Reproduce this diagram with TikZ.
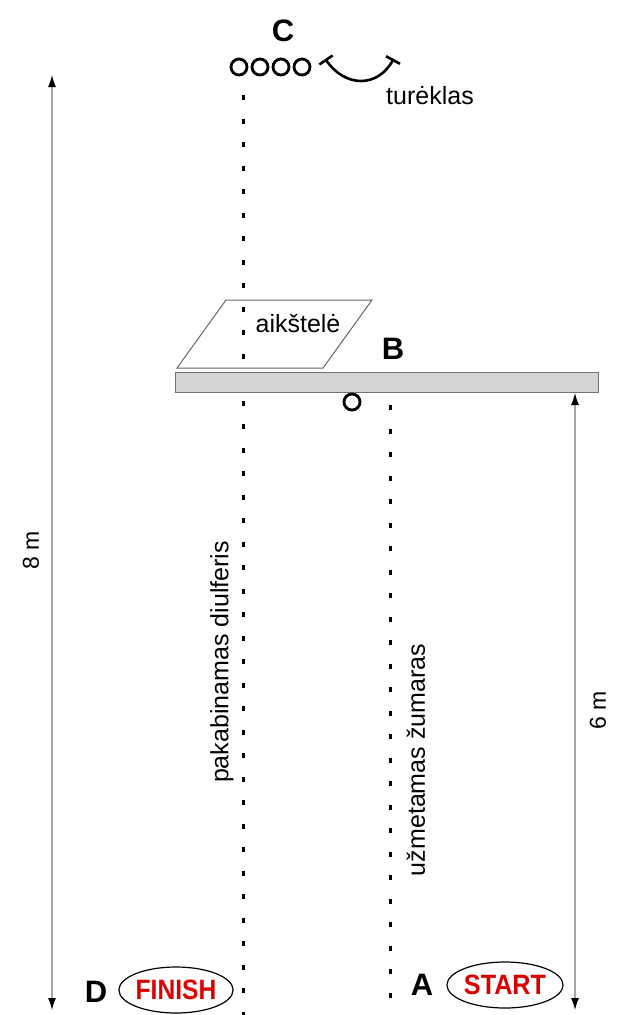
\documentclass[tikz,border=0pt]{standalone}
\usepackage{fontspec}
\setmainfont{Liberation Sans}
\usetikzlibrary{arrows.meta,shapes.geometric}
\begin{document}
\begin{tikzpicture}[x=1pt,y=-1pt,
  lbl/.style={inner sep=0pt,font=\fontsize{25}{28}\selectfont},
  dimlbl/.style={inner sep=0pt,font=\fontsize{23}{26}\selectfont},
  letter/.style={inner sep=0pt,font=\fontsize{31}{33}\selectfont\bfseries},
  dim/.style={draw=black!35,line width=1.1pt,{Latex[length=12pt,width=8pt,color=black]}-{Latex[length=12pt,width=8pt,color=black]}},
  rope/.style={line width=3pt,dash pattern=on 5pt off 18.5pt},
  ring/.style={circle,draw,line width=2.8pt,minimum size=16pt,inner sep=0pt},
  oval/.style={ellipse,draw,line width=1.2pt,minimum width=106pt,minimum height=46pt,inner sep=0pt,
    text=red!85!black,font=\fontsize{28}{30}\selectfont\bfseries},
]
\useasboundingbox (0,0) rectangle (640,1015);
% dimension coordinates
\coordinate (l8t) at (52,75);
\coordinate (l8b) at (52,1010);
\coordinate (l6t) at (575,393);
\coordinate (l6b) at (575,1010);
\draw[dim] (l8t) -- (l8b);
\draw[dim] (l6b) -- (l6t);
\node[dimlbl,rotate=90] (t8) at (31,550) {8 m};
\node[dimlbl,rotate=90] (t6) at (598,710) {6 m};
% platform (aikstele)
\coordinate (p1) at (226,300);
\coordinate (p2) at (372,300);
\coordinate (p3) at (323,368);
\coordinate (p4) at (177,368);
\draw[black!60,line width=1pt] (p1) -- (p2) -- (p3) -- (p4) -- cycle;
\node[lbl] (ai) at (298,324) {aikštelė};
% ropes
\coordinate (r1t) at (243,95);
\coordinate (r1b) at (243,1015);
\coordinate (r2t) at (390,405);
\coordinate (r2b) at (390,1010);
\draw[rope] (r1t) -- (r1b);
\draw[rope] (r2t) -- (r2b);
% bar
\node[draw=black!55,fill=black!17,line width=1pt,minimum width=423pt,minimum height=20pt,inner sep=0pt] (bar) at (386.5,382) {};
\node[letter] (B) at (393,349) {B};
\node[ring] (o5) at (352,402) {};
% top rings
\node[ring] (o1) at (239,67) {};
\node[ring] (o2) at (260,67) {};
\node[ring] (o3) at (281,67) {};
\node[ring] (o4) at (302,67) {};
\node[letter] (C) at (283,31) {C};
% handrail
\coordinate (h1) at (326,60);
\coordinate (h2) at (393,60);
\coordinate (h1a) at (319.4,64.5);
\coordinate (h1b) at (332.6,55.5);
\coordinate (h2a) at (386,56.2);
\coordinate (h2b) at (400,63.8);
\draw[line width=2.6pt] (h1) .. controls (345,88) and (378,88) .. (h2);
\draw[line width=2.6pt] (h1a) -- (h1b);
\draw[line width=2.6pt] (h2a) -- (h2b);
\node[lbl] (tur) at (430,96) {turėklas};
% vertical labels
\node[lbl,rotate=90] (pak) at (222,662) {pakabinamas diulferis};
\node[lbl,rotate=90] (uzm) at (416,760) {užmetamas žumaras};
% bottom
\node[letter] (D) at (96,992) {D};
\node[oval] (fin) at (176,990) {\scalebox{0.88}[1]{FINISH}};
\node[letter] (A) at (422,985) {A};
\node[oval] (sta) at (505,985) {\scalebox{0.9}[1]{START}};
\end{tikzpicture}
\end{document}
